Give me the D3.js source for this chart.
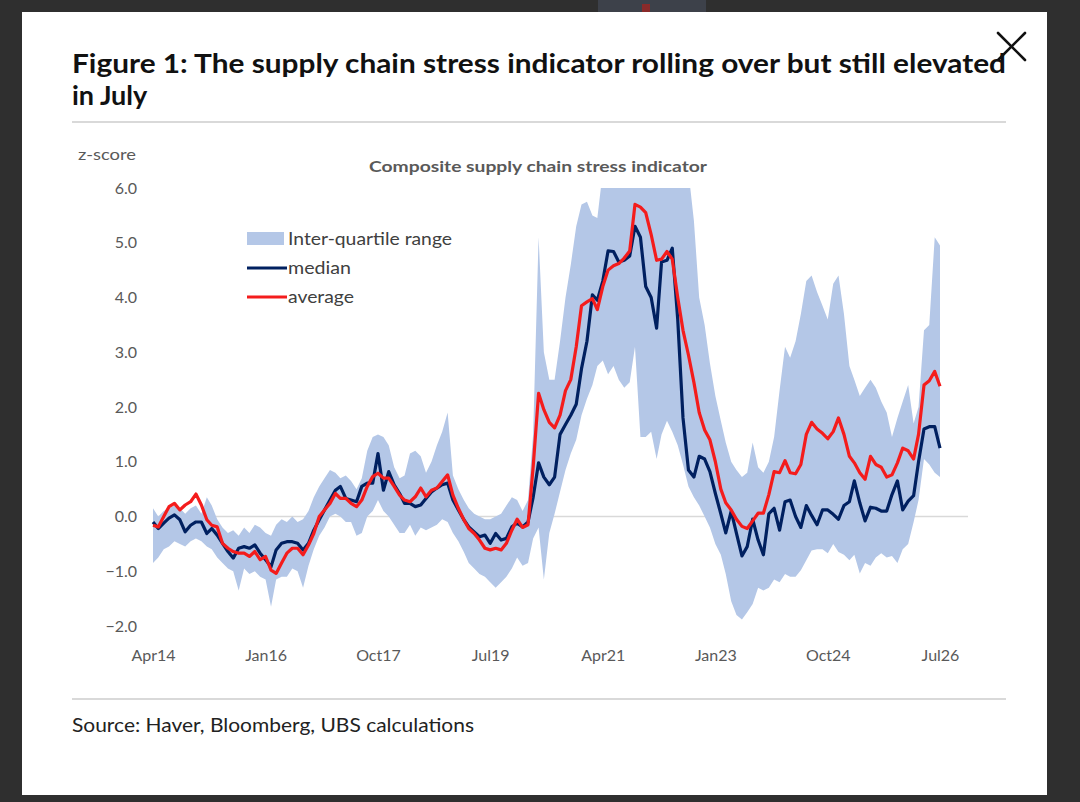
<!DOCTYPE html>
<html>
<head>
<meta charset="utf-8">
<script src="https://cdn.jsdelivr.net/npm/d3@7"></script>
<style>
  html, body { margin: 0; padding: 0; background: #2f2f2f; }
  svg { display: block; }
  .axis text { font-family: Lato, 'Open Sans', sans-serif; fill: #595959; }
</style>
</head>
<body>
<svg id="chart" width="1080" height="802"></svg>
<script>
// x tick labels, first month of the series
const tickLabels = ['Apr14', 'Jan16', 'Oct17', 'Jul19', 'Apr21', 'Jan23', 'Oct24', 'Jul26']
const yTicks = [-2, -1, 0, 1, 2, 3, 4, 5, 6]

// monthly medians, Apr14 .. Jul26
const median = [
  -0.10, -0.22, -0.12, -0.03, 0.03, -0.06, -0.28, -0.16, -0.10, -0.10,
  -0.31, -0.22, -0.34, -0.49, -0.64, -0.76, -0.58, -0.55, -0.58, -0.52,
  -0.67, -0.79, -0.92, -0.61, -0.49, -0.46, -0.46, -0.49, -0.61, -0.49,
  -0.25, -0.06, 0.12, 0.30, 0.48, 0.55, 0.33, 0.30, 0.27, 0.55,
  0.61, 0.61, 1.15, 0.48, 0.82, 0.58, 0.42, 0.24, 0.24, 0.18,
  0.21, 0.33, 0.45, 0.52, 0.58, 0.61, 0.30, 0.12, -0.06, -0.19,
  -0.28, -0.37, -0.34, -0.49, -0.31, -0.43, -0.40, -0.19, -0.12, -0.19,
  -0.10, 0.35, 0.98, 0.72, 0.58, 0.72, 1.50, 1.68, 1.85, 2.05,
  2.70, 3.20, 4.05, 3.95, 4.30, 4.85, 4.84, 4.65, 4.68, 4.76,
  5.30, 5.10, 4.20, 4.00, 3.44, 4.65, 4.68, 4.90, 3.60, 1.80,
  0.85, 0.72, 1.10, 1.05, 0.82, 0.42, 0.05, -0.30, 0.10, -0.31,
  -0.72, -0.55, -0.05, -0.43, -0.70, 0.05, 0.15, -0.25, 0.27, 0.30,
  0.00, -0.20, 0.20, 0.02, -0.15, 0.12, 0.12, 0.04, -0.05, 0.20,
  0.27, 0.65, 0.25, -0.08, 0.17, 0.15, 0.10, 0.10, 0.40, 0.65,
  0.12, 0.28, 0.38, 1.00, 1.60, 1.64, 1.64, 1.25
]

const average = [
  -0.16, -0.19, 0.00, 0.18, 0.24, 0.12, 0.21, 0.27, 0.41, 0.21,
  -0.06, -0.16, -0.19, -0.49, -0.58, -0.64, -0.67, -0.67, -0.73, -0.64,
  -0.79, -0.73, -0.98, -1.04, -0.85, -0.67, -0.58, -0.58, -0.70, -0.52,
  -0.31, 0.00, 0.12, 0.24, 0.42, 0.33, 0.33, 0.24, 0.18, 0.30,
  0.55, 0.73, 0.79, 0.70, 0.70, 0.55, 0.39, 0.30, 0.27, 0.36,
  0.52, 0.36, 0.48, 0.52, 0.64, 0.76, 0.39, 0.15, -0.06, -0.22,
  -0.31, -0.43, -0.58, -0.61, -0.58, -0.61, -0.49, -0.25, -0.05, -0.20,
  -0.15, 0.90, 2.25, 1.95, 1.72, 1.62, 1.85, 2.30, 2.50, 3.10,
  3.85, 3.92, 3.98, 3.78, 4.20, 4.50, 4.58, 4.62, 4.72, 4.85,
  5.70, 5.65, 5.55, 5.15, 4.68, 4.70, 4.84, 4.70, 4.00, 3.40,
  2.95, 2.45, 1.90, 1.58, 1.40, 1.00, 0.50, 0.25, 0.12, -0.05,
  -0.18, -0.22, -0.08, 0.06, 0.06, 0.40, 0.82, 0.80, 1.02, 0.80,
  0.78, 0.95, 1.50, 1.72, 1.60, 1.52, 1.42, 1.55, 1.80, 1.50,
  1.10, 0.98, 0.80, 0.68, 1.10, 0.95, 0.90, 0.72, 0.76, 0.98,
  1.25, 1.20, 1.05, 1.50, 2.40, 2.48, 2.65, 2.38
]

// inter-quartile range, upper and lower edge (above 6.0 is cut off by the plot)
const upperQ = [
  0.15, 0.00, 0.10, 0.15, 0.20, 0.15, 0.05, 0.15, 0.20, 0.05,
  0.35, 0.20, -0.05, -0.20, -0.30, -0.25, -0.35, -0.20, -0.30, -0.15,
  -0.20, -0.30, -0.35, -0.15, -0.05, -0.10, 0.00, -0.10, -0.05, 0.10,
  0.35, 0.55, 0.70, 0.85, 0.80, 0.70, 0.75, 0.65, 0.50, 0.70,
  1.20, 1.45, 1.50, 1.45, 1.30, 0.90, 0.70, 0.75, 1.15, 1.20,
  1.10, 0.80, 1.00, 1.30, 1.55, 1.90, 0.75, 0.50, 0.30, 0.15,
  0.05, 0.00, -0.05, -0.05, 0.00, 0.05, 0.20, 0.35, 0.30, 0.10,
  0.30, 1.50, 5.10, 3.00, 2.50, 2.50, 3.20, 4.00, 4.60, 5.30,
  5.70, 5.75, 5.50, 5.45, 6.30, 6.30, 6.30, 6.30, 6.30, 6.30,
  6.30, 6.30, 6.30, 6.30, 6.30, 6.30, 6.30, 6.30, 6.30, 6.30,
  6.30, 5.40, 4.00, 3.50, 2.80, 2.20, 1.75, 1.35, 1.00, 0.85,
  0.72, 0.80, 1.35, 0.90, 0.80, 1.00, 1.45, 2.30, 3.10, 2.90,
  3.20, 3.70, 4.30, 4.40, 4.10, 3.85, 3.60, 4.25, 4.40, 3.70,
  2.75, 2.50, 2.20, 2.35, 2.50, 2.35, 2.10, 1.90, 1.45, 1.80,
  2.10, 2.40, 1.70, 2.00, 3.40, 3.50, 5.10, 4.95
]

const lowerQ = [
  -0.85, -0.75, -0.60, -0.55, -0.45, -0.50, -0.55, -0.45, -0.40, -0.45,
  -0.55, -0.60, -0.75, -0.85, -0.95, -1.00, -1.35, -0.95, -1.05, -1.00,
  -1.10, -1.15, -1.65, -1.15, -1.10, -1.10, -0.95, -1.00, -1.30, -0.90,
  -0.60, -0.35, -0.20, 0.00, 0.05, 0.00, -0.10, -0.10, -0.35, -0.30,
  0.00, 0.10, 0.30, 0.10, 0.00, -0.15, -0.30, -0.30, -0.15, -0.35,
  -0.20, -0.25, -0.20, -0.15, -0.05, -0.10, -0.30, -0.45, -0.65, -0.85,
  -0.95, -1.05, -1.10, -1.20, -1.30, -1.20, -1.10, -0.95, -0.75, -0.90,
  -0.85, -0.40, -0.20, -1.15, -0.30, 0.05, 0.45, 0.85, 1.15, 1.40,
  1.85, 2.15, 2.40, 2.75, 2.85, 2.60, 2.75, 2.50, 2.35, 2.45,
  3.10, 1.45, 1.45, 1.55, 1.05, 1.50, 1.75, 1.55, 1.30, 0.95,
  0.55, 0.35, 0.20, 0.00, -0.20, -0.50, -0.70, -1.05, -1.55, -1.80,
  -1.88, -1.75, -1.60, -1.30, -1.35, -1.30, -1.15, -1.20, -1.05, -1.10,
  -1.10, -0.98, -0.80, -0.62, -0.60, -0.60, -0.67, -0.50, -0.65, -0.70,
  -0.80, -0.70, -1.04, -0.85, -0.90, -0.75, -0.67, -0.75, -0.72, -0.85,
  -0.60, -0.50, -0.10, 0.30, 1.05, 0.95, 0.80, 0.72
]

const months = d3.timeMonth.range(new Date(2014, 3, 1), new Date(2026, 7, 1))
const parseTick = d3.timeParse('%b%y')

const rows = months.map((m, i) => ({
  date: m, med: median[i], avg: average[i], hi: upperQ[i], lo: lowerQ[i]
}))

const svg = d3.select('#chart')

// page card
svg.append('rect')
  .attr('x', 598).attr('y', 0).attr('width', 108).attr('height', 12)
  .attr('fill', '#3d414a')
svg.append('rect')
  .attr('x', 642).attr('y', 4).attr('width', 8).attr('height', 8)
  .attr('fill', '#8a2a2a')
svg.append('rect')
  .attr('x', 22).attr('y', 12).attr('width', 1025).attr('height', 783)
  .attr('fill', '#ffffff')

// title and rules
const title = svg.append('g')
  .attr('font-family', "Lato, 'Open Sans', sans-serif")
  .attr('font-weight', 'bold')
  .attr('font-size', 27)
  .attr('fill', '#111')
title.append('text')
  .attr('x', 72).attr('y', 73)
  .attr('textLength', 934).attr('lengthAdjust', 'spacingAndGlyphs')
  .text('Figure 1: The supply chain stress indicator rolling over but still elevated')
title.append('text')
  .attr('x', 72).attr('y', 105)
  .text('in July')

svg.append('line')
  .attr('x1', 72).attr('x2', 1006).attr('y1', 122).attr('y2', 122)
  .attr('stroke', '#d9d9d9').attr('stroke-width', 2)
svg.append('line')
  .attr('x1', 72).attr('x2', 1006).attr('y1', 699).attr('y2', 699)
  .attr('stroke', '#d9d9d9').attr('stroke-width', 2)

svg.append('text')
  .attr('x', 72).attr('y', 732)
  .attr('font-family', "Lato, 'Open Sans', sans-serif")
  .attr('font-size', 20)
  .attr('fill', '#222')
  .attr('textLength', 402).attr('lengthAdjust', 'spacingAndGlyphs')
  .text('Source: Haver, Bloomberg, UBS calculations')

// close button
const close = svg.append('g')
  .attr('stroke', '#111').attr('stroke-width', 2.6).attr('stroke-linecap', 'round')
close.append('line').attr('x1', 998).attr('y1', 33).attr('x2', 1025).attr('y2', 60)
close.append('line').attr('x1', 1025).attr('y1', 33).attr('x2', 998).attr('y2', 60)

// scales
const x = d3.scaleTime()
  .domain([months[0], months[months.length - 1]])
  .range([153, 940])
const y = d3.scaleLinear()
  .domain([-2, 6])
  .range([626, 188])

// chart labels
svg.append('text')
  .attr('x', 78).attr('y', 160)
  .attr('font-family', "Lato, 'Open Sans', sans-serif")
  .attr('font-size', 16)
  .attr('fill', '#595959')
  .attr('textLength', 58).attr('lengthAdjust', 'spacingAndGlyphs')
  .text('z-score')
svg.append('text')
  .attr('x', 538).attr('y', 172)
  .attr('text-anchor', 'middle')
  .attr('font-family', "Lato, 'Open Sans', sans-serif")
  .attr('font-weight', 'bold')
  .attr('font-size', 16)
  .attr('fill', '#595959')
  .attr('textLength', 338).attr('lengthAdjust', 'spacingAndGlyphs')
  .text('Composite supply chain stress indicator')

// axes
svg.append('g')
  .attr('class', 'y axis')
  .attr('transform', 'translate(137,0)')
  .call(d3.axisLeft(y).tickValues(yTicks).tickFormat(d3.format('.1f')).tickSize(0).tickPadding(0))
  .call(g => g.select('.domain').remove())
  .selectAll('text')
  .attr('font-size', 16)

svg.append('g')
  .attr('class', 'x axis')
  .attr('transform', 'translate(0,650)')
  .call(d3.axisBottom(x).tickValues(tickLabels.map(parseTick)).tickFormat(d3.timeFormat('%b%y')).tickSize(0).tickPadding(0))
  .call(g => g.select('.domain').remove())
  .selectAll('text')
  .attr('font-size', 16)

// zero line
svg.append('line')
  .attr('x1', x(months[0])).attr('x2', 968)
  .attr('y1', y(0)).attr('y2', y(0))
  .attr('stroke', '#d9d9d9').attr('stroke-width', 1.5)

// plot clip at the top of the value range
svg.append('clipPath').attr('id', 'plot-clip')
  .append('rect')
  .attr('x', 140).attr('y', y(6)).attr('width', 840).attr('height', y(-2) - y(6) + 20)

const plot = svg.append('g').attr('clip-path', 'url(#plot-clip)')

plot.append('path')
  .datum(rows)
  .attr('fill', '#b4c7e7')
  .attr('d', d3.area().x(d => x(d.date)).y0(d => y(d.lo)).y1(d => y(d.hi)))

plot.append('path')
  .datum(rows)
  .attr('fill', 'none')
  .attr('stroke', '#002060')
  .attr('stroke-width', 3.2)
  .attr('stroke-linejoin', 'round')
  .attr('d', d3.line().x(d => x(d.date)).y(d => y(d.med)))

plot.append('path')
  .datum(rows)
  .attr('fill', 'none')
  .attr('stroke', '#f41c1c')
  .attr('stroke-width', 3.2)
  .attr('stroke-linejoin', 'round')
  .attr('d', d3.line().x(d => x(d.date)).y(d => y(d.avg)))

// legend
const legend = svg.append('g')
  .attr('font-family', "Lato, 'Open Sans', sans-serif")
  .attr('font-size', 18)
  .attr('fill', '#404040')
legend.append('rect')
  .attr('x', 247).attr('y', 232).attr('width', 37).attr('height', 13)
  .attr('fill', '#b4c7e7')
legend.append('text').attr('x', 288).attr('y', 245)
  .attr('textLength', 164).attr('lengthAdjust', 'spacingAndGlyphs')
  .text('Inter-quartile range')
legend.append('line')
  .attr('x1', 247).attr('x2', 287).attr('y1', 268).attr('y2', 268)
  .attr('stroke', '#002060').attr('stroke-width', 3)
legend.append('text').attr('x', 288).attr('y', 274)
  .attr('textLength', 63).attr('lengthAdjust', 'spacingAndGlyphs')
  .text('median')
legend.append('line')
  .attr('x1', 247).attr('x2', 287).attr('y1', 297).attr('y2', 297)
  .attr('stroke', '#f41c1c').attr('stroke-width', 3)
legend.append('text').attr('x', 288).attr('y', 303)
  .attr('textLength', 66).attr('lengthAdjust', 'spacingAndGlyphs')
  .text('average')
</script>
</body>
</html>
